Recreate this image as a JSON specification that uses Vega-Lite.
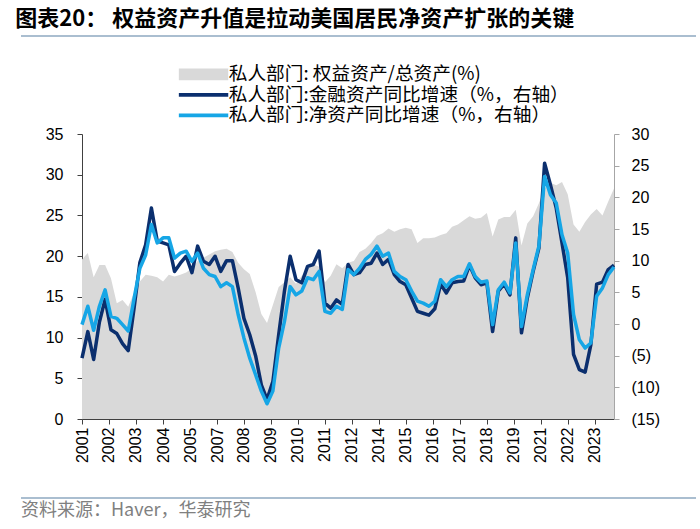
{
  "$schema": "https://vega.github.io/schema/vega-lite/v6.json",
  "padding": {"left": 15, "top": 8, "right": 5, "bottom": 0},
  "background": "white",
  "title": {
    "text": "图表20：  权益资产升值是拉动美国居民净资产扩张的关键",
    "anchor": "start",
    "frame": "bounds",
    "font": "Noto Sans CJK SC",
    "fontSize": 22,
    "fontWeight": "bold",
    "color": "#000000",
    "dx": -5,
    "offset": 4
  },
  "columns": 1,
  "align": "none",
  "spacing": 28,
  "resolve": {"scale": {"color": "independent"}, "legend": {"color": "independent"}},
  "config": {
    "view": {"stroke": null},
    "axis": {"labelFont": "Liberation Sans", "labelColor": "#000000", "grid": false}
  },
  "concat": [
    {
      "width": 614,
      "height": 1,
      "data": {"values": [{"a": 0, "b": 1}]},
      "mark": {"type": "rule", "color": "#8EA9C1", "strokeWidth": 1.5, "xOffset": -61, "x2Offset": 0},
      "encoding": {
        "x": {"field": "a", "type": "quantitative", "scale": {"domain": [0, 1], "nice": false, "zero": false}, "axis": null},
        "x2": {"field": "b"},
        "y": {"datum": 0, "type": "quantitative", "scale": {"domain": [0, 1]}, "axis": null}
      }
    },
    {
      "width": 532,
      "height": 285,
      "data": {
        "values": [
          {"d": "2001-03-01", "eq": 19.6, "fin": -5.4, "net": -0.1},
          {"d": "2001-06-01", "eq": 20.4, "fin": -1.2, "net": 2.8},
          {"d": "2001-09-01", "eq": 17.4, "fin": -5.6, "net": -1.0},
          {"d": "2001-12-01", "eq": 18.9, "fin": 0.3, "net": 2.8},
          {"d": "2002-03-01", "eq": 18.9, "fin": 3.9, "net": 5.4},
          {"d": "2002-06-01", "eq": 17.3, "fin": -0.9, "net": 1.2},
          {"d": "2002-09-01", "eq": 14.2, "fin": -1.5, "net": 0.9},
          {"d": "2002-12-01", "eq": 14.6, "fin": -3.1, "net": -0.1},
          {"d": "2003-03-01", "eq": 13.8, "fin": -4.2, "net": -1.1},
          {"d": "2003-06-01", "eq": 15.5, "fin": 2.5, "net": 4.0},
          {"d": "2003-09-01", "eq": 16.9, "fin": 9.7, "net": 8.8},
          {"d": "2003-12-01", "eq": 17.7, "fin": 12.5, "net": 10.9},
          {"d": "2004-03-01", "eq": 17.6, "fin": 18.3, "net": 15.7},
          {"d": "2004-06-01", "eq": 17.4, "fin": 13.1, "net": 12.8},
          {"d": "2004-09-01", "eq": 16.9, "fin": 12.8, "net": 13.6},
          {"d": "2004-12-01", "eq": 17.7, "fin": 12.5, "net": 13.6},
          {"d": "2005-03-01", "eq": 17.5, "fin": 8.3, "net": 10.4},
          {"d": "2005-06-01", "eq": 17.7, "fin": 9.6, "net": 11.2},
          {"d": "2005-09-01", "eq": 18.0, "fin": 10.7, "net": 11.5},
          {"d": "2005-12-01", "eq": 18.5, "fin": 8.1, "net": 9.9},
          {"d": "2006-03-01", "eq": 19.4, "fin": 12.3, "net": 11.2},
          {"d": "2006-06-01", "eq": 19.8, "fin": 9.9, "net": 8.8},
          {"d": "2006-09-01", "eq": 20.2, "fin": 9.4, "net": 7.8},
          {"d": "2006-12-01", "eq": 20.6, "fin": 10.7, "net": 7.5},
          {"d": "2007-03-01", "eq": 20.8, "fin": 8.3, "net": 5.9},
          {"d": "2007-06-01", "eq": 20.9, "fin": 10.0, "net": 6.5},
          {"d": "2007-09-01", "eq": 20.5, "fin": 10.0, "net": 5.9},
          {"d": "2007-12-01", "eq": 19.2, "fin": 5.7, "net": 1.5},
          {"d": "2008-03-01", "eq": 18.4, "fin": 0.9, "net": -2.2},
          {"d": "2008-06-01", "eq": 17.8, "fin": -1.7, "net": -5.4},
          {"d": "2008-09-01", "eq": 15.6, "fin": -5.0, "net": -8.0},
          {"d": "2008-12-01", "eq": 12.9, "fin": -9.6, "net": -10.6},
          {"d": "2009-03-01", "eq": 11.8, "fin": -11.9, "net": -12.6},
          {"d": "2009-06-01", "eq": 14.0, "fin": -9.1, "net": -10.6},
          {"d": "2009-09-01", "eq": 16.2, "fin": -1.7, "net": -3.8},
          {"d": "2009-12-01", "eq": 16.8, "fin": 5.2, "net": 0.4},
          {"d": "2010-03-01", "eq": 17.4, "fin": 10.7, "net": 5.9},
          {"d": "2010-06-01", "eq": 16.6, "fin": 7.0, "net": 4.6},
          {"d": "2010-09-01", "eq": 17.6, "fin": 6.5, "net": 5.2},
          {"d": "2010-12-01", "eq": 18.5, "fin": 9.1, "net": 7.3},
          {"d": "2011-03-01", "eq": 19.0, "fin": 9.4, "net": 7.0},
          {"d": "2011-06-01", "eq": 18.7, "fin": 11.5, "net": 8.3},
          {"d": "2011-09-01", "eq": 16.8, "fin": 3.3, "net": 2.0},
          {"d": "2011-12-01", "eq": 17.6, "fin": 2.5, "net": 1.7},
          {"d": "2012-03-01", "eq": 19.0, "fin": 3.8, "net": 2.8},
          {"d": "2012-06-01", "eq": 18.5, "fin": 3.1, "net": 2.3},
          {"d": "2012-09-01", "eq": 19.2, "fin": 9.4, "net": 8.6},
          {"d": "2012-12-01", "eq": 19.4, "fin": 7.8, "net": 7.8},
          {"d": "2013-03-01", "eq": 20.5, "fin": 8.1, "net": 8.8},
          {"d": "2013-06-01", "eq": 20.9, "fin": 9.4, "net": 10.2},
          {"d": "2013-09-01", "eq": 21.6, "fin": 9.6, "net": 11.0},
          {"d": "2013-12-01", "eq": 22.5, "fin": 11.2, "net": 12.3},
          {"d": "2014-03-01", "eq": 22.8, "fin": 9.4, "net": 10.7},
          {"d": "2014-06-01", "eq": 23.4, "fin": 10.2, "net": 11.2},
          {"d": "2014-09-01", "eq": 23.0, "fin": 7.8, "net": 8.3},
          {"d": "2014-12-01", "eq": 23.3, "fin": 6.7, "net": 7.5},
          {"d": "2015-03-01", "eq": 23.5, "fin": 6.2, "net": 7.0},
          {"d": "2015-06-01", "eq": 23.3, "fin": 4.1, "net": 5.2},
          {"d": "2015-09-01", "eq": 21.6, "fin": 2.0, "net": 3.6},
          {"d": "2015-12-01", "eq": 22.2, "fin": 1.7, "net": 3.3},
          {"d": "2016-03-01", "eq": 22.2, "fin": 1.4, "net": 2.8},
          {"d": "2016-06-01", "eq": 22.3, "fin": 2.4, "net": 3.6},
          {"d": "2016-09-01", "eq": 22.6, "fin": 6.3, "net": 7.0},
          {"d": "2016-12-01", "eq": 22.8, "fin": 4.9, "net": 5.9},
          {"d": "2017-03-01", "eq": 23.6, "fin": 6.5, "net": 7.0},
          {"d": "2017-06-01", "eq": 23.9, "fin": 6.7, "net": 7.5},
          {"d": "2017-09-01", "eq": 24.4, "fin": 6.8, "net": 7.5},
          {"d": "2017-12-01", "eq": 24.9, "fin": 9.3, "net": 9.5},
          {"d": "2018-03-01", "eq": 24.6, "fin": 7.3, "net": 7.5},
          {"d": "2018-06-01", "eq": 24.7, "fin": 6.2, "net": 6.6},
          {"d": "2018-09-01", "eq": 25.3, "fin": 6.5, "net": 6.8},
          {"d": "2018-12-01", "eq": 22.4, "fin": -1.2, "net": -0.1},
          {"d": "2019-03-01", "eq": 24.5, "fin": 5.2, "net": 5.4},
          {"d": "2019-06-01", "eq": 24.8, "fin": 6.3, "net": 6.6},
          {"d": "2019-09-01", "eq": 24.8, "fin": 4.6, "net": 4.9},
          {"d": "2019-12-01", "eq": 25.7, "fin": 13.6, "net": 12.8},
          {"d": "2020-03-01", "eq": 21.3, "fin": -1.4, "net": -0.4},
          {"d": "2020-06-01", "eq": 24.0, "fin": 4.1, "net": 4.6},
          {"d": "2020-09-01", "eq": 24.9, "fin": 8.3, "net": 8.6},
          {"d": "2020-12-01", "eq": 26.5, "fin": 12.0, "net": 12.3},
          {"d": "2021-03-01", "eq": 28.3, "fin": 25.4, "net": 23.3},
          {"d": "2021-06-01", "eq": 29.0, "fin": 22.0, "net": 20.4},
          {"d": "2021-09-01", "eq": 28.7, "fin": 18.3, "net": 19.1},
          {"d": "2021-12-01", "eq": 29.1, "fin": 12.8, "net": 14.1},
          {"d": "2022-03-01", "eq": 27.6, "fin": 7.3, "net": 11.2},
          {"d": "2022-06-01", "eq": 23.9, "fin": -4.8, "net": 1.5},
          {"d": "2022-09-01", "eq": 23.0, "fin": -7.2, "net": -2.5},
          {"d": "2022-12-01", "eq": 24.2, "fin": -7.6, "net": -3.8},
          {"d": "2023-03-01", "eq": 25.1, "fin": -3.3, "net": -3.0},
          {"d": "2023-06-01", "eq": 25.8, "fin": 6.3, "net": 4.4},
          {"d": "2023-09-01", "eq": 25.0, "fin": 6.6, "net": 5.7},
          {"d": "2023-12-01", "eq": 26.7, "fin": 8.6, "net": 7.8},
          {"d": "2024-03-01", "eq": 28.3, "fin": 9.3, "net": 9.0}
        ]
      },
      "layer": [
        {
          "mark": {"type": "area", "opacity": 1},
          "encoding": {
            "x": {
              "field": "d",
              "type": "temporal",
              "scale": {
                "type": "utc",
                "nice": false,
                "domain": [
                  {"year": 2001, "month": 3, "date": 1, "utc": true},
                  {"year": 2024, "month": 3, "date": 1, "utc": true}
                ]
              },
              "axis": {
                "title": null,
                "labelExpr": "utcFormat(datum.value, '%Y')",
                "labelAngle": -90,
                "labelFontSize": 16,
                "labelPadding": 3,
                "labelFlush": false,
                "labelOverlap": false,
                "labelBound": false,
                "tickSize": 5,
                "tickColor": "#404040",
                "domainColor": "#404040",
                "values": [
                  {"year": 2001, "month": 3, "date": 1, "utc": true},
                  {"year": 2002, "month": 5, "date": 1, "utc": true},
                  {"year": 2003, "month": 7, "date": 1, "utc": true},
                  {"year": 2004, "month": 9, "date": 1, "utc": true},
                  {"year": 2005, "month": 11, "date": 1, "utc": true},
                  {"year": 2007, "month": 1, "date": 1, "utc": true},
                  {"year": 2008, "month": 3, "date": 1, "utc": true},
                  {"year": 2009, "month": 5, "date": 1, "utc": true},
                  {"year": 2010, "month": 7, "date": 1, "utc": true},
                  {"year": 2011, "month": 9, "date": 1, "utc": true},
                  {"year": 2012, "month": 11, "date": 1, "utc": true},
                  {"year": 2014, "month": 1, "date": 1, "utc": true},
                  {"year": 2015, "month": 3, "date": 1, "utc": true},
                  {"year": 2016, "month": 5, "date": 1, "utc": true},
                  {"year": 2017, "month": 7, "date": 1, "utc": true},
                  {"year": 2018, "month": 9, "date": 1, "utc": true},
                  {"year": 2019, "month": 11, "date": 1, "utc": true},
                  {"year": 2021, "month": 1, "date": 1, "utc": true},
                  {"year": 2022, "month": 3, "date": 1, "utc": true},
                  {"year": 2023, "month": 5, "date": 1, "utc": true}
                ]
              }
            },
            "y": {
              "field": "eq",
              "type": "quantitative",
              "scale": {"domain": [0, 35], "nice": false},
              "axis": {
                "orient": "left",
                "title": null,
                "values": [0, 5, 10, 15, 20, 25, 30, 35],
                "labelFontSize": 16,
                "labelPadding": 14,
                "tickSize": 5,
                "tickColor": "#404040",
                "domainColor": "#404040",
                "minExtent": 61
              }
            },
            "color": {
              "datum": "eq",
              "scale": {
                "domain": ["eq", "fin", "net"],
                "range": ["#D9D9D9", "#0B2F6E", "#16A6E6"]
              },
              "legend": {
                "orient": "none",
                "legendX": 94,
                "legendY": -69,
                "direction": "vertical",
                "title": null,
                "labelExpr": "datum.value === 'eq' ? '私人部门: 权益资产/总资产(%)' : (datum.value === 'fin' ? '私人部门:金融资产同比增速（%，右轴）' : '私人部门:净资产同比增速（%，右轴）')",
                "labelFont": "Noto Sans CJK SC",
                "labelFontSize": 18.7,
                "labelColor": "#000000",
                "labelLimit": 500,
                "symbolSize": 169,
                "labelOffset": 34,
                "rowPadding": 0.5,
                "encoding": {
                  "symbols": {
                    "shape": {"value": {"expr": "datum.value === 'eq' ? 'M-1,-0.9H6.6V0.9H-1Z' : 'M-1,-0.3H6.6V0.3H-1Z'"}},
                    "strokeWidth": {"value": 0},
                    "opacity": {"value": 1}
                  }
                }
              }
            }
          }
        },
        {
          "layer": [
            {
              "mark": {"type": "line", "strokeWidth": 3.5, "strokeJoin": "round"},
              "encoding": {
                "x": {
                  "field": "d",
                  "type": "temporal",
                  "axis": {
                    "title": null,
                    "labelExpr": "utcFormat(datum.value, '%Y')",
                    "labelAngle": -90,
                    "labelFontSize": 16,
                    "labelPadding": 3,
                    "labelFlush": false,
                    "labelOverlap": false,
                    "labelBound": false,
                    "tickSize": 5,
                    "tickColor": "#404040",
                    "domainColor": "#404040",
                    "values": [
                      {"year": 2001, "month": 3, "date": 1, "utc": true},
                      {"year": 2002, "month": 5, "date": 1, "utc": true},
                      {"year": 2003, "month": 7, "date": 1, "utc": true},
                      {"year": 2004, "month": 9, "date": 1, "utc": true},
                      {"year": 2005, "month": 11, "date": 1, "utc": true},
                      {"year": 2007, "month": 1, "date": 1, "utc": true},
                      {"year": 2008, "month": 3, "date": 1, "utc": true},
                      {"year": 2009, "month": 5, "date": 1, "utc": true},
                      {"year": 2010, "month": 7, "date": 1, "utc": true},
                      {"year": 2011, "month": 9, "date": 1, "utc": true},
                      {"year": 2012, "month": 11, "date": 1, "utc": true},
                      {"year": 2014, "month": 1, "date": 1, "utc": true},
                      {"year": 2015, "month": 3, "date": 1, "utc": true},
                      {"year": 2016, "month": 5, "date": 1, "utc": true},
                      {"year": 2017, "month": 7, "date": 1, "utc": true},
                      {"year": 2018, "month": 9, "date": 1, "utc": true},
                      {"year": 2019, "month": 11, "date": 1, "utc": true},
                      {"year": 2021, "month": 1, "date": 1, "utc": true},
                      {"year": 2022, "month": 3, "date": 1, "utc": true},
                      {"year": 2023, "month": 5, "date": 1, "utc": true}
                    ]
                  }
                },
                "y": {
                  "field": "fin",
                  "type": "quantitative",
                  "scale": {"domain": [-15, 30], "nice": false},
                  "axis": {
                    "orient": "right",
                    "title": null,
                    "values": [-15, -10, -5, 0, 5, 10, 15, 20, 25, 30],
                    "labelExpr": "datum.value < 0 ? '(' + abs(datum.value) + ')' : datum.label",
                    "labelFontSize": 16,
                    "labelPadding": 12,
                    "tickSize": 5,
                    "tickColor": "#A6A6A6",
                    "domainColor": "#A6A6A6"
                  }
                },
                "color": {"datum": "fin"}
              }
            },
            {
              "mark": {"type": "line", "strokeWidth": 3.5, "strokeJoin": "round"},
              "encoding": {
                "x": {
                  "field": "d",
                  "type": "temporal",
                  "axis": {
                    "title": null,
                    "labelExpr": "utcFormat(datum.value, '%Y')",
                    "labelAngle": -90,
                    "labelFontSize": 16,
                    "labelPadding": 3,
                    "labelFlush": false,
                    "labelOverlap": false,
                    "labelBound": false,
                    "tickSize": 5,
                    "tickColor": "#404040",
                    "domainColor": "#404040",
                    "values": [
                      {"year": 2001, "month": 3, "date": 1, "utc": true},
                      {"year": 2002, "month": 5, "date": 1, "utc": true},
                      {"year": 2003, "month": 7, "date": 1, "utc": true},
                      {"year": 2004, "month": 9, "date": 1, "utc": true},
                      {"year": 2005, "month": 11, "date": 1, "utc": true},
                      {"year": 2007, "month": 1, "date": 1, "utc": true},
                      {"year": 2008, "month": 3, "date": 1, "utc": true},
                      {"year": 2009, "month": 5, "date": 1, "utc": true},
                      {"year": 2010, "month": 7, "date": 1, "utc": true},
                      {"year": 2011, "month": 9, "date": 1, "utc": true},
                      {"year": 2012, "month": 11, "date": 1, "utc": true},
                      {"year": 2014, "month": 1, "date": 1, "utc": true},
                      {"year": 2015, "month": 3, "date": 1, "utc": true},
                      {"year": 2016, "month": 5, "date": 1, "utc": true},
                      {"year": 2017, "month": 7, "date": 1, "utc": true},
                      {"year": 2018, "month": 9, "date": 1, "utc": true},
                      {"year": 2019, "month": 11, "date": 1, "utc": true},
                      {"year": 2021, "month": 1, "date": 1, "utc": true},
                      {"year": 2022, "month": 3, "date": 1, "utc": true},
                      {"year": 2023, "month": 5, "date": 1, "utc": true}
                    ]
                  }
                },
                "y": {
                  "field": "net",
                  "type": "quantitative",
                  "axis": {
                    "orient": "right",
                    "title": null,
                    "values": [-15, -10, -5, 0, 5, 10, 15, 20, 25, 30],
                    "labelExpr": "datum.value < 0 ? '(' + abs(datum.value) + ')' : datum.label",
                    "labelFontSize": 16,
                    "labelPadding": 12,
                    "tickSize": 5,
                    "tickColor": "#A6A6A6",
                    "domainColor": "#A6A6A6"
                  }
                },
                "color": {"datum": "net"}
              }
            }
          ]
        }
      ],
      "resolve": {"scale": {"y": "independent"}, "axis": {"y": "independent"}}
    },
    {
      "width": 614,
      "height": 29,
      "data": {"values": [{"a": 0, "b": 1}]},
      "layer": [
        {
          "mark": {"type": "rule", "color": "#8EA9C1", "strokeWidth": 1.5, "xOffset": -61, "x2Offset": 0, "yOffset": 7},
          "encoding": {
            "x": {"field": "a", "type": "quantitative", "scale": {"domain": [0, 1], "nice": false, "zero": false}, "axis": null},
            "x2": {"field": "b"},
            "y": {"datum": 1, "type": "quantitative", "scale": {"domain": [0, 1]}, "axis": null}
          }
        },
        {
          "mark": {
            "type": "text",
            "align": "left",
            "baseline": "bottom",
            "font": "Noto Sans CJK SC",
            "fontSize": 18,
            "color": "#808080",
            "xOffset": -61
          },
          "encoding": {
            "x": {"field": "a", "type": "quantitative", "axis": null},
            "y": {"datum": 0, "type": "quantitative", "axis": null},
            "text": {"value": "资料来源：Haver，华泰研究"}
          }
        }
      ]
    }
  ]
}
